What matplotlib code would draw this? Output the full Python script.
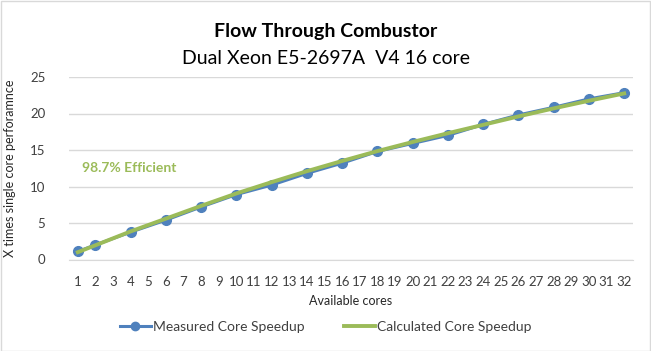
import matplotlib
matplotlib.use("Agg")
import matplotlib.pyplot as plt
from matplotlib.patches import Rectangle

plt.rcParams['font.family'] = ['Lato', 'DejaVu Sans']

cores_measured = [1, 2, 4, 6, 8, 10, 12, 14, 16, 18, 20, 22, 24, 26, 28, 30, 32]
measured = [1.1, 2.0, 3.75, 5.4, 7.2, 8.9, 10.2, 11.8, 13.2, 14.8, 15.9, 17.0, 18.5, 19.8, 20.85, 22.0, 22.85]
cores_calc = [1, 2, 4, 6, 8, 10, 12, 14, 16, 18, 20, 22, 24, 26, 28, 30, 32]
calculated = [1.0, 1.95, 3.85, 5.6, 7.35, 9.05, 10.6, 12.1, 13.5, 14.85, 16.1, 17.3, 18.45, 19.6, 20.7, 21.75, 22.75]
x_ticks = list(range(1, 33))
y_ticks = [0, 5, 10, 15, 20, 25]

title = "Flow Through Combustor"
subtitle = "Dual Xeon E5-2697A  V4 16 core"
xlabel = "Available cores"
ylabel = "X times single core perforamnce"
note = "98.7% Efficient"

blue = "#4F81BD"
green = "#9BBB59"
grey = "#404040"

fig = plt.figure(figsize=(6.51, 3.51), dpi=100)
W, H = 651, 351
ax = fig.add_axes([69 / W, 1 - 259.5 / H, (633 - 69) / W, (259.5 - 77) / H])

ax.plot(cores_measured, measured, color=blue, lw=2.2, marker='o', ms=7,
        label="Measured Core Speedup", zorder=3)
ax.plot(cores_calc, calculated, color=green, lw=2.8,
        label="Calculated Core Speedup", zorder=4)

ax.set_xlim(0.5, 32.5)
ax.set_ylim(0, 25)
ax.set_xticks(x_ticks)
ax.set_xticklabels([str(v) for v in x_ticks])
ax.set_yticks(y_ticks)
ax.yaxis.grid(True, color="#D9D9D9", lw=1)
ax.set_axisbelow(True)
for s in ['top', 'right', 'left']:
    ax.spines[s].set_visible(False)
ax.spines['bottom'].set_color("#D9D9D9")
ax.tick_params(axis='both', length=0, labelsize=9.5, colors=grey)
ax.tick_params(axis='x', pad=12)
ax.tick_params(axis='y', pad=17)

ax.set_xlabel(xlabel, fontsize=9, color="#262626", labelpad=5)
ax.set_ylabel(ylabel, fontsize=9, color="#262626", labelpad=10)

ax.text(1.25, 12.6, note, fontsize=10, fontweight='bold', color=green, va='center')

fig.text(326 / W, 1 - 32 / H, title, ha='center', va='center', fontsize=14, fontweight='bold', color='black')
fig.text(326 / W, 1 - 58 / H, subtitle, ha='center', va='center', fontsize=14, color='black')

leg = fig.legend(loc='center', bbox_to_anchor=(326 / W, 1 - 327 / H), ncol=2, frameon=False,
                 fontsize=10, handlelength=2.2, columnspacing=2.8, handletextpad=0.2)
for t in leg.get_texts():
    t.set_color(grey)
for h in leg.legend_handles:
    h.set_markersize(6)

fig.patches.append(Rectangle((0.5 / W, 0.5 / H), 1 - 1.5 / W, 1 - 1.5 / H, transform=fig.transFigure,
                             fill=False, edgecolor="#D9D9D9", lw=1))

fig.savefig("out.png", dpi=100)
